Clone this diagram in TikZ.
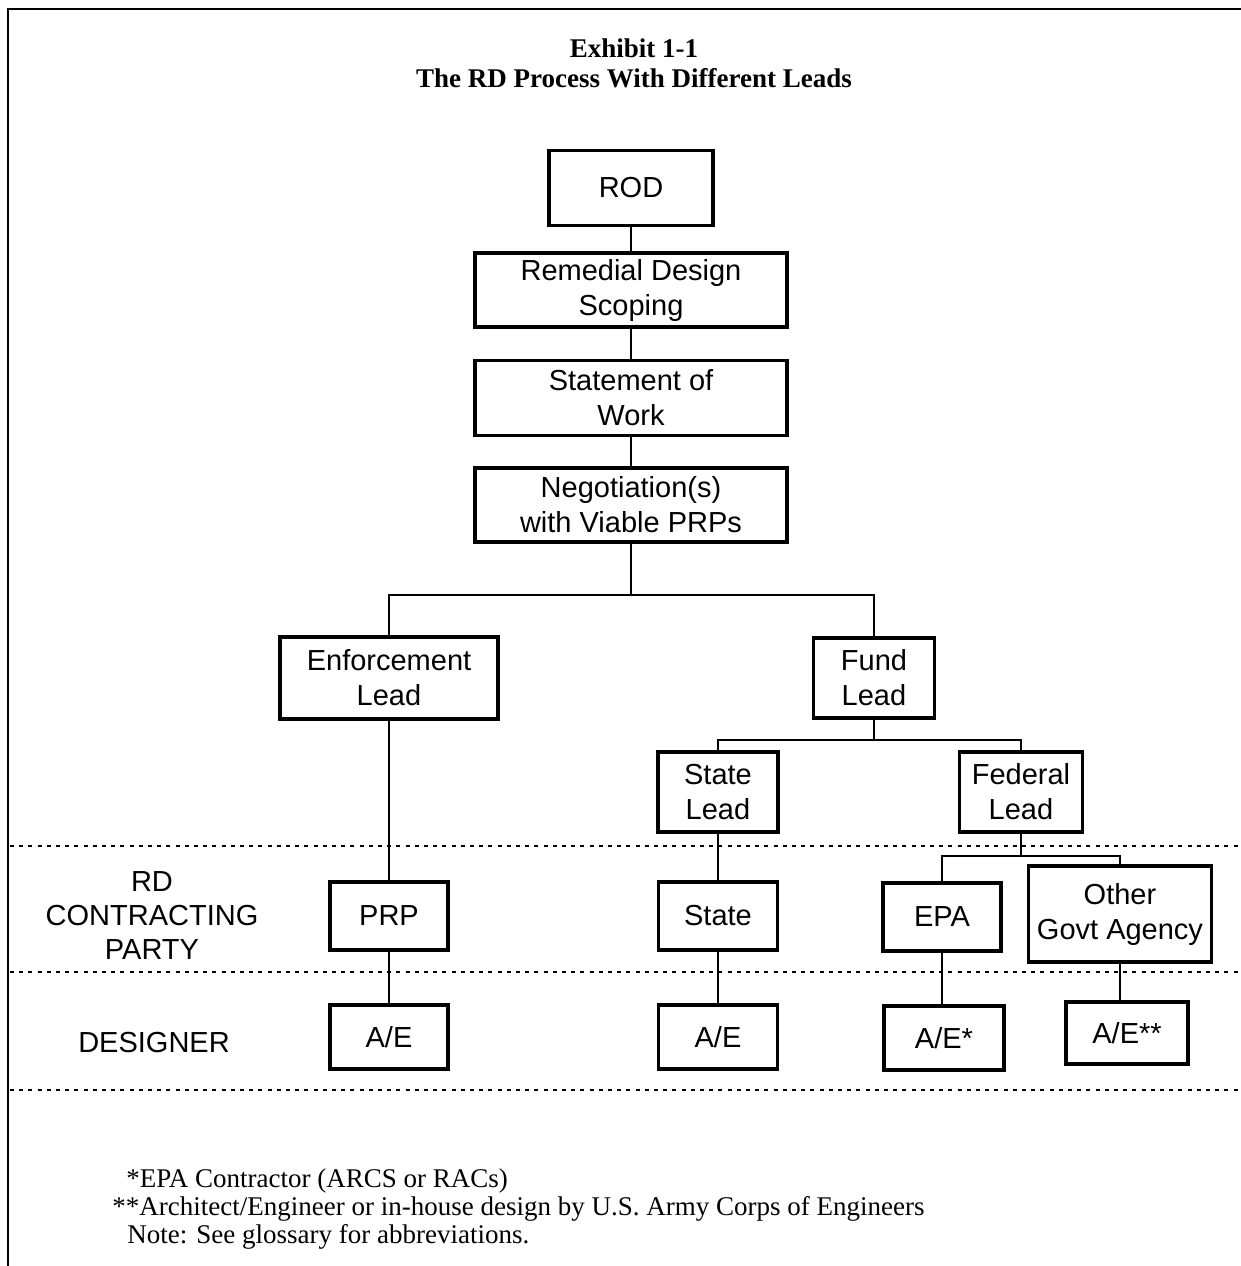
\documentclass[tikz,border=0pt]{standalone}
\usepackage{fontspec}
\setmainfont{Liberation Serif}
\newfontfamily\boxsans{Liberation Sans}
\newcommand{\boxfnt}{\boxsans\fontsize{14.5}{17.5}\selectfont}
\newcommand{\titlefnt}{\fontsize{13.5}{15}\selectfont\bfseries}
\newcommand{\notefnt}{\fontsize{13.5}{14.5}\selectfont}
\begin{document}
\begin{tikzpicture}[x=0.5pt,y=-0.5pt,
  box/.style={draw, line width=1.6pt, inner sep=0pt, align=center, font=\boxfnt},
  conn/.style={line width=1.2pt},
  sep/.style={line width=1pt, dash pattern=on 2pt off 2.6pt},
  lbl/.style={inner sep=0pt, align=center, font=\boxfnt},
  note/.style={inner sep=0pt, anchor=west, font=\notefnt}]
\useasboundingbox (0,0) rectangle (1241,1266);
\fill[white] (0,0) rectangle (1241,1266);
% frame
\draw[line width=1.2pt] (8,1266) -- (8,9) -- (1241,9);
% title
\node[inner sep=0pt, align=center, font=\titlefnt] (title) at (634,63) {Exhibit 1-1\\The RD Process With Different Leads};
% boxes
\node[box, minimum width=82pt, minimum height=37.5pt] (rod) at (631,188) {ROD};
\node[box, minimum width=156pt, minimum height=37pt] (rds) at (631,290) {Remedial Design\\Scoping};
\node[box, minimum width=156pt, minimum height=37.5pt] (sow) at (631,398) {Statement of\\Work};
\node[box, minimum width=156pt, minimum height=37pt] (neg) at (631,505) {Negotiation(s)\\with Viable PRPs};
\node[box, minimum width=109pt, minimum height=41pt] (enf) at (389,678) {Enforcement\\Lead};
\node[box, minimum width=60.5pt, minimum height=40pt] (fund) at (874,678) {Fund\\Lead};
\node[box, minimum width=60pt, minimum height=40pt] (stl) at (718,792) {State\\Lead};
\node[box, minimum width=61.5pt, minimum height=40pt] (fdl) at (1021,792) {Federal\\Lead};
\node[box, minimum width=59pt, minimum height=34pt] (prp) at (389,916) {PRP};
\node[box, minimum width=59.5pt, minimum height=34pt] (sta) at (718,916) {State};
\node[box, minimum width=59pt, minimum height=34pt] (epa) at (942,917) {EPA};
\node[box, minimum width=91.5pt, minimum height=48pt] (oga) at (1120,914) {Other\\Govt Agency};
\node[box, minimum width=59pt, minimum height=32pt] (ae1) at (389,1037) {A/E};
\node[box, minimum width=59.5pt, minimum height=32pt] (ae2) at (718,1037) {A/E};
\node[box, minimum width=60pt, minimum height=32pt] (ae3) at (944,1038) {A/E*};
\node[box, minimum width=61pt, minimum height=31pt] (ae4) at (1127,1033) {A/E**};
% row labels
\node[lbl, font=\boxsans\fontsize{14.5}{17}\selectfont] (lrd) at (152,916) {RD\\CONTRACTING\\PARTY};
\node[lbl] (ldes) at (154,1043) {DESIGNER};
% separators
\draw[sep] (10,846) -- (1241,846);
\draw[sep] (10,972) -- (1241,972);
\draw[sep] (10,1090) -- (1241,1090);
% junctions
\coordinate (j1) at (631,595);
\coordinate (j2) at (874,740);
\coordinate (j3) at (1021,856);
% connectors
\draw[conn] (rod.south) -- (rds.north);
\draw[conn] (rds.south) -- (sow.north);
\draw[conn] (sow.south) -- (neg.north);
\draw[conn] (neg.south) -- (j1);
\draw[conn] (enf.north) |- (j1) -| (fund.north);
\draw[conn] (fund.south) -- (j2);
\draw[conn] (stl.north) |- (j2) -| (fdl.north);
\draw[conn] (fdl.south) -- (j3);
\draw[conn] (epa.north) |- (j3) -| (oga.north);
\draw[conn] (enf.south) -- (prp.north);
\draw[conn] (prp.south) -- (ae1.north);
\draw[conn] (stl.south) -- (sta.north);
\draw[conn] (sta.south) -- (ae2.north);
\draw[conn] (epa.south) -- (epa.south |- ae3.north);
\draw[conn] (oga.south) -- (oga.south |- ae4.north);
% notes
\node[note] (fn1) at (126,1181) {*EPA Contractor (ARCS or RACs)};
\node[note] (fn2) at (112,1209) {**Architect/Engineer or in-house design by U.S. Army Corps of Engineers};
\node[note] (fn3) at (127,1237) {Note: See glossary for abbreviations.};
\end{tikzpicture}
\end{document}
